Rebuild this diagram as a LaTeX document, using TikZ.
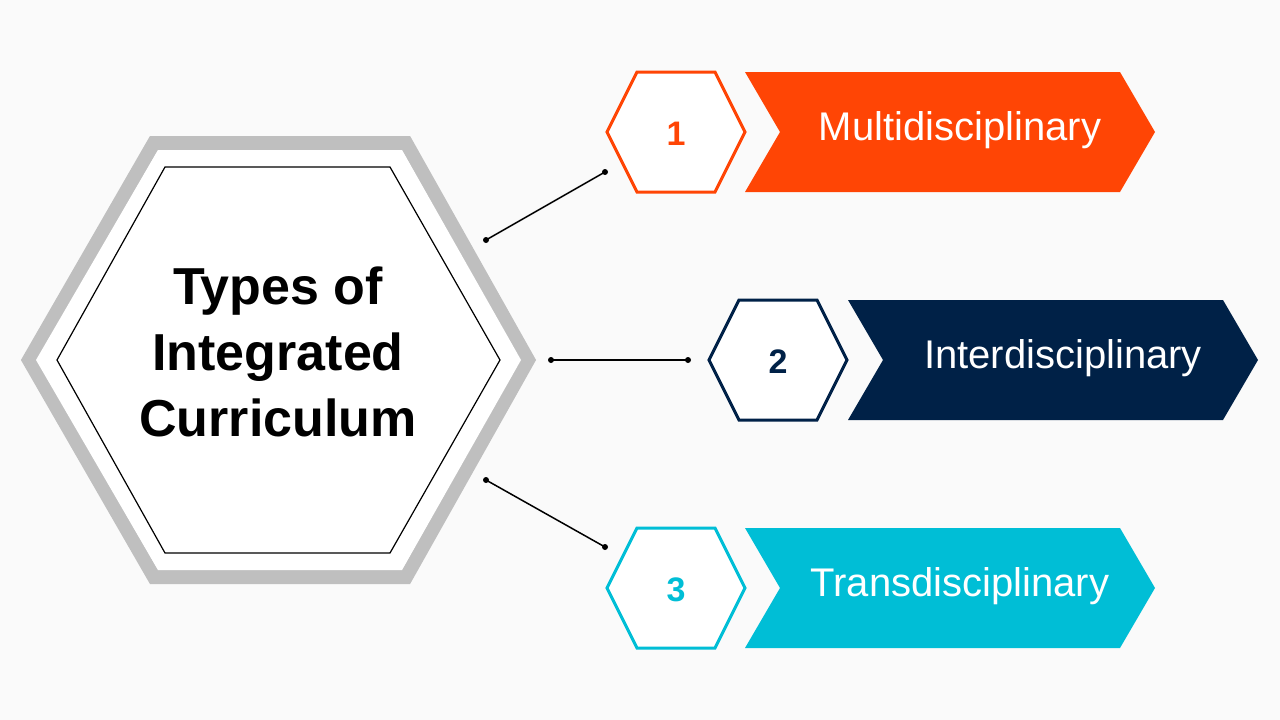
\documentclass[tikz,border=0pt]{standalone}
\usepackage{fontspec}
\setmainfont{Liberation Sans}
\usetikzlibrary{calc}
\definecolor{typeone}{HTML}{FF4505}
\definecolor{typetwo}{HTML}{002147}
\definecolor{typethree}{HTML}{00BED6}
\definecolor{hexgray}{HTML}{BFBFBF}
\tikzset{
    label text/.style={text=white,font=\fontsize{40}{44}\selectfont,anchor=center},
    num text/.style={font=\bfseries\fontsize{34}{38}\selectfont,anchor=center},
    link/.style={line width=1.5pt},
    dot/.style={circle,fill=black,inner sep=0pt,minimum size=6pt}
}
\begin{document}
\begin{tikzpicture}[x=1pt,y=-1pt]

% Background and bounding box.
\fill[white!98!black] (0,0) rectangle (1280,720);
\useasboundingbox (0,0) rectangle (1280,720);

% Big hexagon, gray frame.
\draw[hexgray,line width=14pt,line join=miter]
    (29,360) -- (154,143) -- (406,143) -- (528,360) -- (406,577) -- (154,577) -- cycle;
\fill[white] (36,360) -- (158,150) -- (402,150) -- (521,360) -- (402,570) -- (158,570) -- cycle;

% Inner thin hexagon.
\draw[line width=1.2pt]
    (57,360) -- (165,167) -- (390,167) -- (500,360) -- (390,553) -- (165,553) -- cycle;
\node (title) at (278,352) [align=center,font=\bfseries\fontsize{52}{66}\selectfont]
    {Types of\\Integrated\\Curriculum};

% Loop for each type: y centre / hex left / arrow start / arrow tip / colour / number / text / text x.
\foreach \y/\hx/\ax/\tx/\c/\n/\t/\lx in {
    132/607/745/1155/typeone/1/Multidisciplinary/960,
    360/709/848/1258/typetwo/2/Interdisciplinary/1063,
    588/607/745/1155/typethree/3/Transdisciplinary/960} {

    % Number hexagon.
    \draw[\c,line width=3pt,fill=white]
        (\hx,\y) -- ++(30,-60) -- ++(78,0) -- ++(30,60)
        -- ++(-30,60) -- ++(-78,0) -- cycle;
    \node (num\n) at (\hx+69,\y+2) [num text,text=\c] {\n};

    % Chevron band.
    \fill[\c]
        (\ax,\y-60) -- (\tx-35,\y-60) -- (\tx,\y) -- (\tx-35,\y+60)
        -- (\ax,\y+60) -- (\ax+35,\y) -- cycle;
    \node (type\n) at (\lx,\y-2) [label text] {\t};
}

% Connector end points.
\node (from1) at (486,240) [dot] {};
\node (to1) at (605,172) [dot] {};
\node (from2) at (551,360) [dot] {};
\node (to2) at (688,360) [dot] {};
\node (from3) at (486,480) [dot] {};
\node (to3) at (605,547) [dot] {};

% Connectors.
\foreach \i in {1,2,3} {
    \draw[link] (from\i.center) -- (to\i.center);
}

\end{tikzpicture}
\end{document}
